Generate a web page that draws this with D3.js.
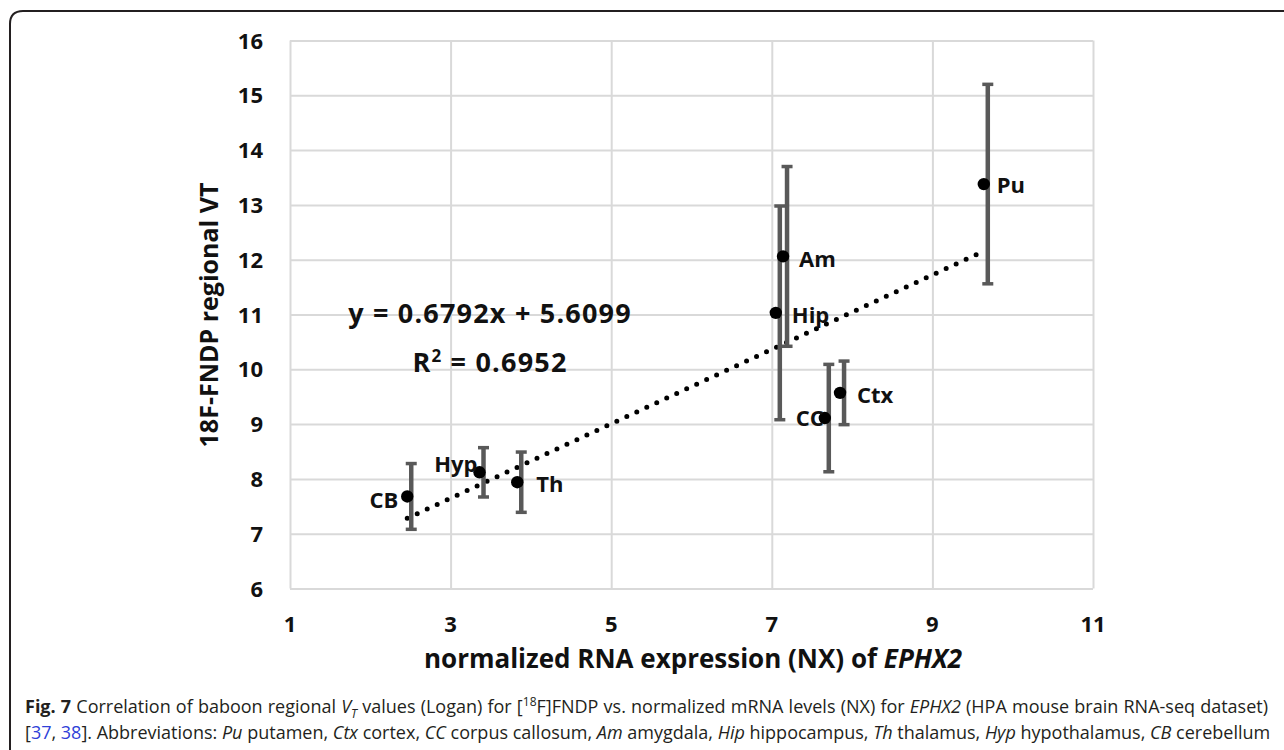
<!DOCTYPE html>
<html>
<head>
<meta charset="utf-8">
<script src="https://cdn.jsdelivr.net/npm/d3@7"></script>
<style>
  body { margin: 0; background: #fff; }
  svg { display: block; font-family: "Open Sans", sans-serif; }
</style>
</head>
<body>
<svg id="chart"></svg>
<script>
// regions, NX (x), VT (y), error bar half-width
var regions = ["CB", "Hyp", "Th", "Hip", "Am", "CC", "Ctx", "Pu"];
var nx      = [2.46, 3.36, 3.83, 7.05, 7.14, 7.66, 7.85, 9.64];
var vt      = [7.68, 8.12, 7.94, 11.03, 12.06, 9.11, 9.57, 13.38];
var vtErr   = [0.60, 0.45, 0.55, 1.95, 1.64, 0.98, 0.58, 1.82];

var slope = 0.6792, intercept = 5.6099, r2 = 0.6952;

var xTicks = [1, 3, 5, 7, 9, 11];
var yTicks = [6, 7, 8, 9, 10, 11, 12, 13, 14, 15, 16];

// label placement (style only)
var labelPos = {
  CB:  {anchor: "end",   dx: -9,  dy: 12},
  Hyp: {anchor: "end",   dx: -2,  dy: 0},
  Th:  {anchor: "start", dx: 19,  dy: 10},
  Hip: {anchor: "start", dx: 16,  dy: 10},
  Am:  {anchor: "start", dx: 16,  dy: 11},
  CC:  {anchor: "end",   dx: -1,  dy: 8},
  Ctx: {anchor: "start", dx: 17,  dy: 10},
  Pu:  {anchor: "start", dx: 13,  dy: 9}
};

var W = 1284, H = 750;
var plot = {left: 290, right: 1093, top: 40.5, bottom: 588.5};

const svg = d3.select("#chart").attr("width", W).attr("height", H);

// frame (top + left, rounded corner)
svg.append("path")
  .attr("d", "M10,752 L10,24 Q10,11 23,11 L1286,11")
  .attr("fill", "none").attr("stroke", "#231f20").attr("stroke-width", 2);

var x = d3.scaleLinear().domain([1, 11]).range([plot.left, plot.right]);
var y = d3.scaleLinear().domain([6, 16]).range([plot.bottom, plot.top]);

// grid
svg.append("g")
  .attr("transform", "translate(0," + plot.bottom + ")")
  .call(d3.axisBottom(x).tickValues(xTicks).tickSize(-(plot.bottom - plot.top)).tickFormat(""))
  .call(g => g.select(".domain").remove())
  .call(g => g.selectAll("line").attr("stroke", "#d9d9d9").attr("stroke-width", 2));

svg.append("g")
  .attr("transform", "translate(" + plot.left + ",0)")
  .call(d3.axisLeft(y).tickValues(yTicks).tickSize(-(plot.right - plot.left)).tickFormat(""))
  .call(g => g.select(".domain").remove())
  .call(g => g.selectAll("line").attr("stroke", "#d9d9d9").attr("stroke-width", 2));

// tick labels
svg.append("g").selectAll("text").data(yTicks).enter().append("text")
  .attr("x", 263).attr("y", d => y(d) + 8)
  .attr("text-anchor", "end")
  .attr("font-size", 22).attr("font-weight", "bold").attr("fill", "#111")
  .text(d => d);

svg.append("g").selectAll("text").data(xTicks).enter().append("text")
  .attr("x", d => x(d)).attr("y", 632)
  .attr("text-anchor", "middle")
  .attr("font-size", 22).attr("font-weight", "bold").attr("fill", "#111")
  .text(d => d);

// axis titles
svg.append("text")
  .attr("transform", "translate(218,315) rotate(-90)")
  .attr("text-anchor", "middle")
  .attr("font-size", 25).attr("font-weight", "bold").attr("fill", "#111")
  .text("18F-FNDP regional VT");

var xt = svg.append("text")
  .attr("x", 693).attr("y", 668)
  .attr("text-anchor", "middle")
  .attr("font-size", 26).attr("font-weight", "bold").attr("fill", "#111");
xt.append("tspan").text("normalized RNA expression (NX) of ");
xt.append("tspan").attr("font-style", "italic").text("EPHX2");

// trendline
var xMin = d3.min(nx), xMax = d3.max(nx);
svg.append("path")
  .datum([xMin, xMax])
  .attr("d", d3.line().x(d => x(d)).y(d => y(slope * d + intercept)))
  .attr("fill", "none").attr("stroke", "#000")
  .attr("stroke-width", 5).attr("stroke-linecap", "round")
  .attr("stroke-dasharray", "0,11");

var pts = regions.map((r, i) => ({name: r, x: nx[i], y: vt[i], e: vtErr[i]}));

// error bars
var eb = svg.append("g").attr("stroke", "#595959");
var off = 4;
eb.selectAll("line.bar").data(pts).enter().append("line")
  .attr("x1", d => x(d.x) + off).attr("x2", d => x(d.x) + off)
  .attr("y1", d => y(d.y - d.e)).attr("y2", d => y(d.y + d.e))
  .attr("stroke-width", 4.5);
eb.selectAll("line.capt").data(pts).enter().append("line")
  .attr("x1", d => x(d.x) + off - 5.5).attr("x2", d => x(d.x) + off + 5.5)
  .attr("y1", d => y(d.y + d.e)).attr("y2", d => y(d.y + d.e))
  .attr("stroke-width", 3.5);
eb.selectAll("line.capb").data(pts).enter().append("line")
  .attr("x1", d => x(d.x) + off - 5.5).attr("x2", d => x(d.x) + off + 5.5)
  .attr("y1", d => y(d.y - d.e)).attr("y2", d => y(d.y - d.e))
  .attr("stroke-width", 3.5);

// points
svg.append("g").selectAll("circle").data(pts).enter().append("circle")
  .attr("cx", d => x(d.x)).attr("cy", d => y(d.y)).attr("r", 6.2)
  .attr("fill", "#000");

// point labels
svg.append("g").selectAll("text").data(pts).enter().append("text")
  .attr("x", d => x(d.x) + labelPos[d.name].dx)
  .attr("y", d => y(d.y) + labelPos[d.name].dy)
  .attr("text-anchor", d => labelPos[d.name].anchor)
  .attr("font-size", 22).attr("font-weight", "bold").attr("fill", "#111")
  .text(d => d.name);

// equation (two centred lines)
var eqCx = 490;
svg.append("text")
  .attr("x", eqCx).attr("y", 323)
  .attr("text-anchor", "middle")
  .attr("font-size", 27).attr("font-weight", "bold").attr("fill", "#111")
  .attr("letter-spacing", 1.2)
  .text("y = " + slope + "x + " + intercept);
var rt = svg.append("text")
  .attr("x", eqCx).attr("y", 372)
  .attr("text-anchor", "middle")
  .attr("font-size", 27).attr("font-weight", "bold").attr("fill", "#111")
  .attr("letter-spacing", 1.2);
rt.append("tspan").text("R");
rt.append("tspan").attr("dy", -10).attr("font-size", 17).text("2");
rt.append("tspan").attr("dy", 10).text(" = " + r2);

// caption
var capStyle = {size: 18, color: "#231f20", blue: "#2f3fd8"};
var line1 = [
  {t: "Fig. 7", b: true},
  {t: " Correlation of baboon regional "},
  {t: "V", i: true},
  {t: "T", i: true, sub: true},
  {t: " values (Logan) for ["},
  {t: "18", sup: true},
  {t: "F]FNDP vs. normalized mRNA levels (NX) for "},
  {t: "EPHX2", i: true},
  {t: " (HPA mouse brain RNA-seq dataset)"}
];
var line2 = [
  {t: "["}, {t: "37", blue: true}, {t: ", "}, {t: "38", blue: true},
  {t: "]. Abbreviations: "},
  {t: "Pu", i: true}, {t: " putamen, "},
  {t: "Ctx", i: true}, {t: " cortex, "},
  {t: "CC", i: true}, {t: " corpus callosum, "},
  {t: "Am", i: true}, {t: " amygdala, "},
  {t: "Hip", i: true}, {t: " hippocampus, "},
  {t: "Th", i: true}, {t: " thalamus, "},
  {t: "Hyp", i: true}, {t: " hypothalamus, "},
  {t: "CB", i: true}, {t: " cerebellum"}
];

function captionLine(parts, yy, target) {
  var t = svg.append("text")
    .attr("x", 25).attr("y", yy)
    .attr("font-size", capStyle.size).attr("fill", capStyle.color)
    .attr("xml:space", "preserve");
  var shift = 0;
  parts.forEach(p => {
    var s = t.append("tspan").text(p.t);
    if (p.b) s.attr("font-weight", "bold");
    if (p.i) s.attr("font-style", "italic");
    if (p.blue) s.attr("fill", capStyle.blue);
    var want = p.sub ? 5 : p.sup ? -7 : 0;
    if (want !== shift) { s.attr("dy", want - shift); shift = want; }
    if (p.sub || p.sup) s.attr("font-size", 12);
  });
  var len = t.node().getComputedTextLength();
  var spaces = parts.map(p => p.t).join("").split(" ").length - 1;
  t.attr("word-spacing", Math.max(0, (target - len) / spaces));
}
captionLine(line1, 713, 1243);
captionLine(line2, 739, 1245);
</script>
</body>
</html>
